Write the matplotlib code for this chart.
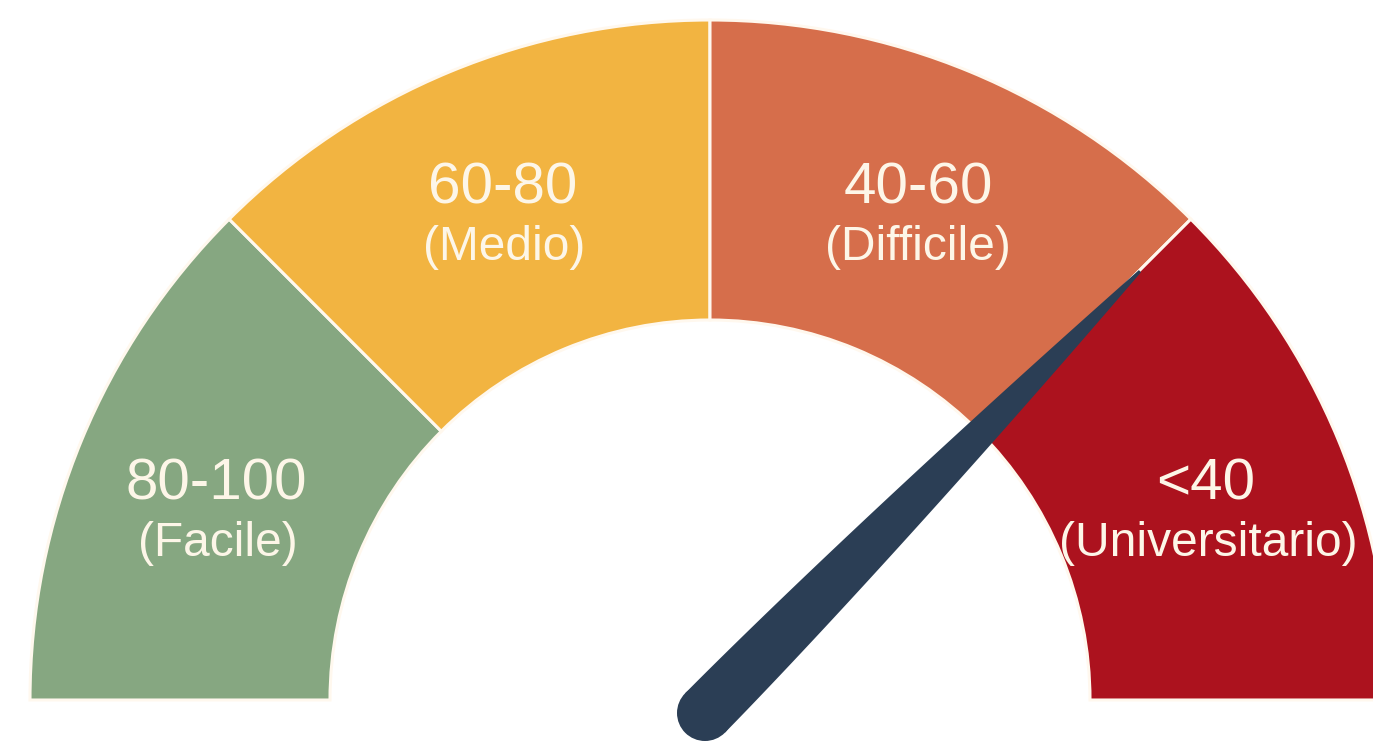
import numpy as np
import matplotlib
matplotlib.use("Agg")
import matplotlib.pyplot as plt
from matplotlib.patches import Wedge, Polygon, Circle

# ---- data ----
range_labels = ["80-100", "60-80", "40-60", "<40"]
level_labels = ["(Facile)", "(Medio)", "(Difficile)", "(Universitario)"]
bounds = [100, 80, 60, 40, 0]          # score boundaries, left to right
colors = ["#86a781", "#f2b441", "#d66e4b", "#ac121e"]
needle_value = 40.2

# ---- layout ----
W, H = 1373, 747
fig = plt.figure(figsize=(W / 100, H / 100), dpi=100)
ax = fig.add_axes([0, 0, 1, 1])
ax.set_xlim(0, W)
ax.set_ylim(0, H)
ax.axis("off")

cx, cy = 710, 47
r_out, r_in = 680, 380
n = len(range_labels)
seg_deg = 180 / n

def value_to_angle(v):
    for i in range(n):
        hi, lo = bounds[i], bounds[i + 1]
        if lo <= v <= hi:
            a_hi = 180 - i * seg_deg
            return a_hi - (hi - v) / (hi - lo) * seg_deg
    return 0

for i in range(n):
    a2 = 180 - i * seg_deg
    a1 = a2 - seg_deg
    ax.add_patch(Wedge((cx, cy), r_out, a1, a2, width=r_out - r_in,
                       facecolor=colors[i], edgecolor="#fff8ee", linewidth=2.2))

# labels
txt_color = "#fdf6e8"
label_pos = [(216, 263, 218), (503, 558, 504), (918, 558, 918), (1206, 262, 1208)]
for i in range(n):
    x1, y1, x2 = label_pos[i]
    ax.text(x1, y1, range_labels[i], ha="center", va="center", fontsize=42,
            color=txt_color, family="Liberation Sans")
    ax.text(x2, y1 - 59, level_labels[i], ha="center", va="center",
            fontsize=34.5, color=txt_color, family="Liberation Sans")

# needle (smoothly tapered shape)
ang = np.deg2rad(value_to_angle(needle_value))
bx, by = 705, 34
L = 620
d = np.array([np.cos(ang), np.sin(ang)])
p = np.array([-d[1], d[0]])
base = np.array([bx, by])
f = np.linspace(0, 1, 40)
w = 1.5 + 26.5 * (1 - f ** 1.6)
upper = [base + d * (fi * L) + p * wi for fi, wi in zip(f, w)]
lower = [base + d * (fi * L) - p * wi for fi, wi in zip(f[::-1], w[::-1])]
needle_color = "#2b3e55"
ax.add_patch(Polygon(upper + lower, closed=True, facecolor=needle_color,
                     edgecolor="none", zorder=5))
ax.add_patch(Circle(base, 28, facecolor=needle_color, edgecolor="none", zorder=5))

fig.savefig("out.png", dpi=100, facecolor="white")
